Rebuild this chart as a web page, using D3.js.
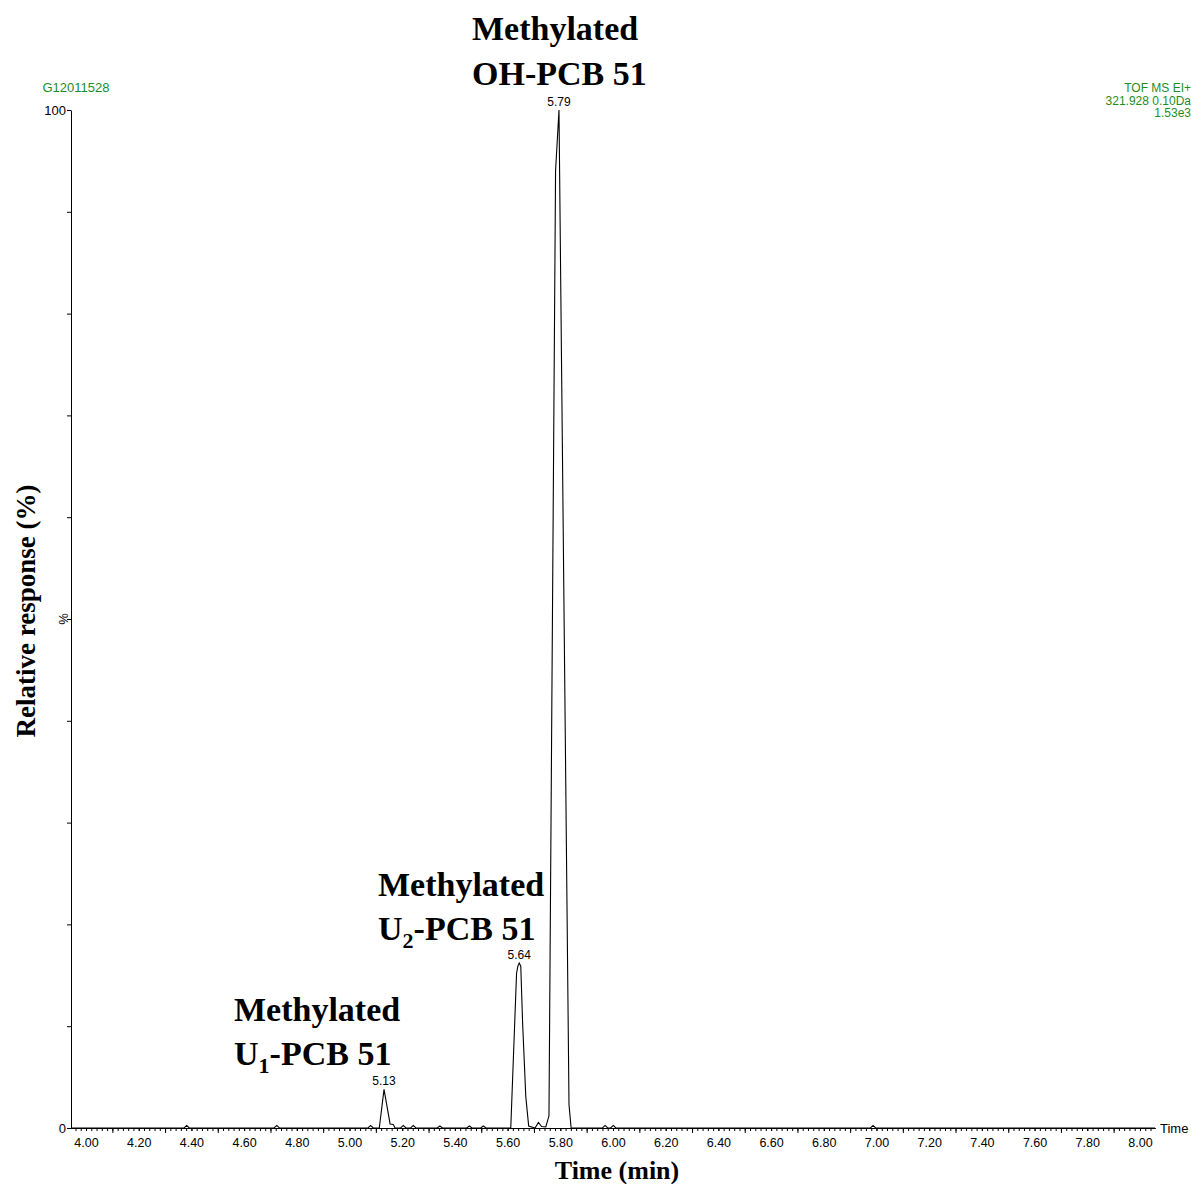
<!DOCTYPE html>
<html>
<head>
<meta charset="utf-8">
<script src="https://cdn.jsdelivr.net/npm/d3@7/dist/d3.min.js"></script>
<style>
  html, body { margin: 0; padding: 0; background: #fff; }
  svg { display: block; }
</style>
</head>
<body>
<svg id="chart" width="1191" height="1184"></svg>
<script>
// ---- data ----
const times = [3.943, 4.372, 4.382, 4.392, 4.714, 4.724, 4.734, 5.070, 5.080, 5.090,
  5.100, 5.113, 5.131, 5.154, 5.166, 5.173, 5.194, 5.204, 5.214, 5.232, 5.242, 5.252,
  5.333, 5.343, 5.353, 5.445, 5.455, 5.465, 5.498, 5.508, 5.518,
  5.600, 5.612, 5.634, 5.639, 5.644, 5.650, 5.657, 5.669, 5.680,
  5.704, 5.717, 5.729, 5.745, 5.757, 5.782, 5.795, 5.833, 5.841,
  5.960, 5.970, 5.980, 5.991, 6.001, 6.011, 6.977, 6.987, 6.997, 8.057];
const response = [0, 0, 0.25, 0, 0, 0.25, 0, 0, 0.25, 0,
  0, 0, 3.8, 0.4, 0.35, 0, 0, 0.25, 0, 0, 0.25, 0,
  0, 0.2, 0, 0, 0.2, 0, 0, 0.2, 0,
  0, 0, 15.2, 15.9, 16.2, 15.9, 10.3, 3.1, 0.2,
  0, 0.55, 0.15, 0.1, 1.2, 94, 100, 2.3, 0,
  0, 0.25, 0, 0, 0.25, 0, 0, 0.25, 0, 0];

const peakLabels = ["5.13", "5.64", "5.79"];
const peakTimes = [5.131, 5.644, 5.795];
const peakValues = [3.8, 16.2, 100];

const xDomain = [3.943, 8.057];
const yDomain = [0, 100];
const xLabelTicks = [4.0, 4.2, 4.4, 4.6, 4.8, 5.0, 5.2, 5.4, 5.6, 5.8, 6.0, 6.2, 6.4, 6.6, 6.8, 7.0, 7.2, 7.4, 7.6, 7.8, 8.0];
const xMajorTicks = [4.1, 4.3, 4.5, 4.7, 4.9, 5.1, 5.3, 5.5, 5.7, 5.9, 6.1, 6.3, 6.5, 6.7, 6.9, 7.1, 7.3, 7.5, 7.7, 7.9];
const yTicks = [0, 10, 20, 30, 40, 50, 60, 70, 80, 90, 100];

const headerLeft = "G12011528";
const headerRight = ["TOF MS EI+", "321.928 0.10Da", "1.53e3"];

// ---- layout ----
const svg = d3.select("#chart");
const x = d3.scaleLinear().domain(xDomain).range([71, 1155]);
const y = d3.scaleLinear().domain(yDomain).range([1128, 110]);

const sans = "Liberation Sans, Arial, sans-serif";
const serif = "Liberation Serif, 'Times New Roman', serif";
const green = "#1f8c1f";

// minor x ticks every 0.02
const minorTicks = d3.range(198, 403).map(i => i / 50);
const gx = svg.append("g").attr("transform", "translate(0,1128)");
gx.call(d3.axisBottom(x).tickValues(minorTicks).tickSize(3).tickFormat("").tickSizeOuter(0));
const gx2 = svg.append("g").attr("transform", "translate(0,1128)");
gx2.call(d3.axisBottom(x).tickValues(xMajorTicks).tickSize(5).tickFormat("").tickSizeOuter(0));
const gx3 = svg.append("g").attr("transform", "translate(0,1128)");
gx3.call(d3.axisBottom(x).tickValues(xLabelTicks).tickSize(3).tickPadding(7)
  .tickFormat(d3.format(".2f")).tickSizeOuter(0));
[gx, gx2, gx3].forEach(g => {
  g.select(".domain").attr("stroke", "#000").attr("stroke-width", 1);
  g.selectAll(".tick line").attr("stroke", "#000");
  g.selectAll("text").attr("font-family", sans).attr("font-size", 12.5).attr("fill", "#000");
});

// y axis
const gy = svg.append("g").attr("transform", "translate(71,0)");
gy.call(d3.axisLeft(y).tickValues(yTicks).tickSize(4).tickPadding(1).tickSizeOuter(0)
  .tickFormat(d => d === 100 ? "100" : (d === 0 ? "0" : "")));
gy.select(".domain").attr("stroke", "#000");
gy.selectAll(".tick line").attr("stroke", "#000");
gy.selectAll("text").attr("font-family", sans).attr("font-size", 13).attr("fill", "#000");

svg.append("text")
  .attr("transform", `translate(68,${y(50)}) rotate(-90)`)
  .attr("text-anchor", "middle")
  .attr("font-family", sans).attr("font-size", 13)
  .text("%");

svg.append("text")
  .attr("x", 1160).attr("y", 1133)
  .attr("font-family", sans).attr("font-size", 13)
  .text("Time");

// trace
const line = d3.line().x((d, i) => x(times[i])).y(d => y(d));
svg.append("path")
  .attr("d", line(response))
  .attr("fill", "none")
  .attr("stroke", "#000")
  .attr("stroke-width", 1.1)
  .attr("stroke-linejoin", "miter");

// peak labels
svg.selectAll(".pk").data(peakLabels).enter().append("text")
  .attr("class", "pk")
  .attr("x", (d, i) => x(peakTimes[i]))
  .attr("y", (d, i) => y(peakValues[i]) - 4)
  .attr("text-anchor", "middle")
  .attr("font-family", sans).attr("font-size", 12)
  .text(d => d);

// headers
svg.append("text")
  .attr("x", 76).attr("y", 92).attr("text-anchor", "middle")
  .attr("font-family", sans).attr("font-size", 13).attr("fill", green)
  .text(headerLeft);
svg.selectAll(".hr").data(headerRight).enter().append("text")
  .attr("class", "hr")
  .attr("x", 1191).attr("y", (d, i) => 92 + i * 12.5)
  .attr("text-anchor", "end")
  .attr("font-family", sans).attr("font-size", 12).attr("fill", green)
  .text(d => d);

// axis titles
svg.append("text")
  .attr("transform", `translate(35,${611}) rotate(-90)`)
  .attr("text-anchor", "middle")
  .attr("font-family", serif).attr("font-weight", "bold").attr("font-size", 27)
  .text("Relative response (%)");
svg.append("text")
  .attr("x", 617).attr("y", 1179)
  .attr("text-anchor", "middle")
  .attr("font-family", serif).attr("font-weight", "bold").attr("font-size", 26)
  .text("Time (min)");

// compound annotations
function annot(xp, y1, y2, pre, sub, post) {
  svg.append("text").attr("x", xp).attr("y", y1)
    .attr("font-family", serif).attr("font-weight", "bold").attr("font-size", 34)
    .text("Methylated");
  const t2 = svg.append("text").attr("x", xp).attr("y", y2)
    .attr("font-family", serif).attr("font-weight", "bold").attr("font-size", 34);
  t2.append("tspan").text(pre);
  if (sub) {
    t2.append("tspan").attr("font-size", 22).attr("dy", 8).text(sub);
    t2.append("tspan").attr("dy", -8).text(post);
  }
}
annot(472, 40, 85, "OH-PCB 51", null, null);
annot(378, 896, 940, "U", "2", "-PCB 51");
annot(234, 1021, 1065, "U", "1", "-PCB 51");
</script>
</body>
</html>
